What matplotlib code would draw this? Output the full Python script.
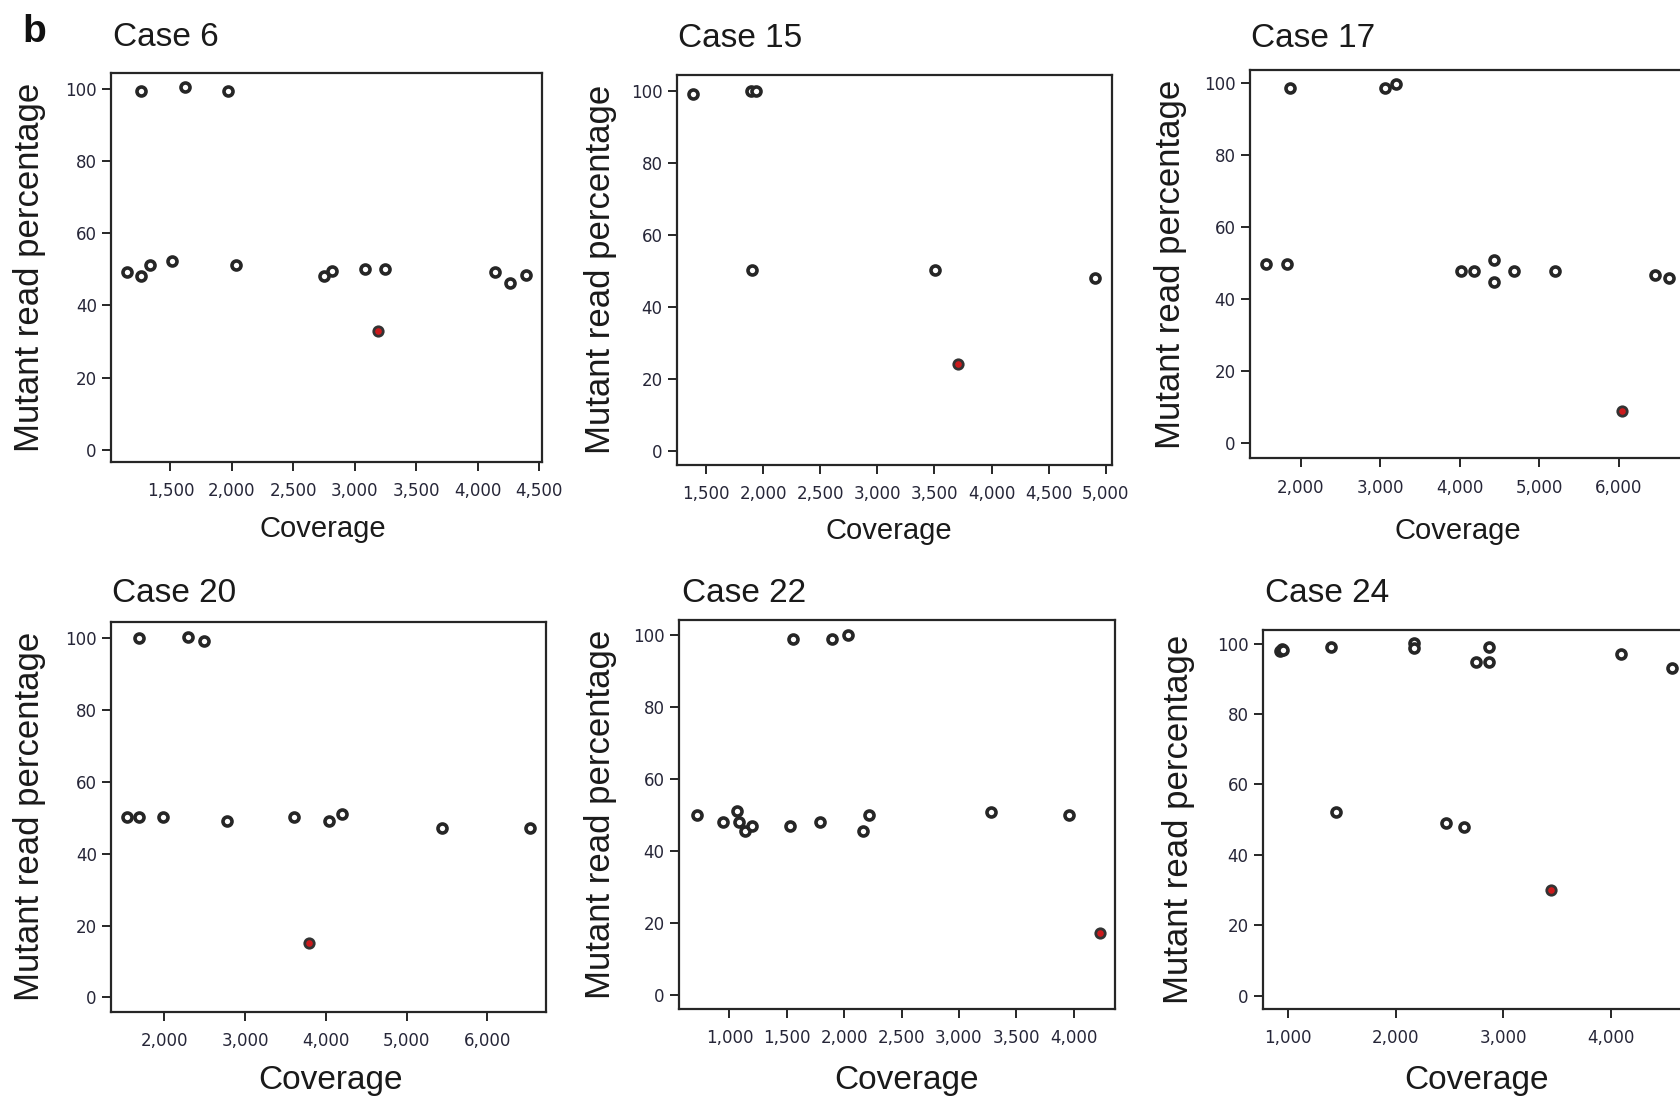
import matplotlib.pyplot as plt
from matplotlib.ticker import FuncFormatter

W, H = 1680, 1097

cases = ["Case 6", "Case 15", "Case 17", "Case 20", "Case 22", "Case 24"]

cov_6 = [1146, 1263, 1263, 1336, 1511, 1622, 1972, 2031, 2746, 2810, 3079, 3248, 4138, 4264, 4392]
pct_6 = [49.2, 99.4, 48.0, 51.3, 52.2, 100.5, 99.4, 51.2, 48.1, 49.4, 50.2, 50.2, 49.2, 46.1, 48.3]

cov_15 = [1386, 1890, 1935, 1902, 3509, 4908]
pct_15 = [99.1, 100.0, 100.0, 50.3, 50.3, 48.2]

cov_17 = [1567, 1827, 1862, 3054, 3192, 4016, 4181, 4431, 4431, 4683, 5198, 6459, 6633]
pct_17 = [49.9, 49.9, 98.8, 98.8, 99.8, 47.8, 47.8, 50.8, 44.8, 47.8, 47.8, 46.8, 45.9]

cov_20 = [1545, 1682, 1682, 1987, 2296, 2486, 2774, 3600, 4042, 4201, 5439, 6531]
pct_20 = [50.1, 50.1, 100.1, 50.1, 100.2, 99.2, 49.2, 50.1, 49.2, 51.1, 47.2, 47.2]

cov_22 = [716, 948, 1064, 1084, 1135, 1197, 1529, 1555, 1793, 1893, 2032, 2167, 2216, 3280, 3958]
pct_22 = [50.0, 48.0, 51.1, 48.0, 45.7, 46.9, 46.9, 98.9, 48.0, 98.9, 100.0, 45.7, 50.0, 51.0, 50.0]

cov_24 = [920, 940, 950, 1396, 1445, 2174, 2174, 2466, 2633, 2748, 2871, 2871, 4096, 4568]
pct_24 = [98.0, 98.6, 98.3, 98.9, 52.1, 100.1, 98.7, 49.0, 48.0, 94.9, 99.1, 94.9, 97.0, 93.0]

# highlighted (red) mutation per case
red_cov = [3192, 3703, 6039, 3790, 4226, 3449]
red_pct = [32.9, 24.2, 8.8, 15.2, 17.1, 30.0]

xticks = [
    [1500, 2000, 2500, 3000, 3500, 4000, 4500],
    [1500, 2000, 2500, 3000, 3500, 4000, 4500, 5000],
    [2000, 3000, 4000, 5000, 6000],
    [2000, 3000, 4000, 5000, 6000],
    [1000, 1500, 2000, 2500, 3000, 3500, 4000],
    [1000, 2000, 3000, 4000],
]
yticks = [0, 20, 40, 60, 80, 100]

all_cov = [cov_6, cov_15, cov_17, cov_20, cov_22, cov_24]
all_pct = [pct_6, pct_15, pct_17, pct_20, pct_22, pct_24]

# layout in pixels: left, right, top, bottom
boxes = [
    (111.4, 541.8, 72.6, 462.3),
    (677.3, 1112.3, 74.7, 464.7),
    (1250.2, 1683, 69.8, 458.4),
    (111.4, 546.4, 622.2, 1011.5),
    (679.1, 1115, 619.8, 1009),
    (1263.3, 1695, 630.2, 1009),
]
xlims = [(1020, 4520), (1247, 5058), (1363, 6810), (1346, 6729), (561, 4361), (769, 4784)]
ylims = [(-3.5, 104.5), (-3.7, 104.5), (-4.3, 103.8), (-3.9, 104.4), (-3.9, 104.3), (-3.8, 103.8)]
title_pos = [(113, 46), (677.6, 46.6), (1251, 46.6), (112.5, 602.3), (682, 602.3), (1264.7, 602.3)]
ylab_off = [65, 60, 63.5, 65, 62, 68]
xlab_pos = [(323, 53), (889, 52), (1458, 59), (331, 53), (906, 56), (1477, 56)]
xlab_size = [21, 21, 21, 24, 24, 24]

TXT = "Liberation Sans"
INK = "#262626"

fig = plt.figure(figsize=(W / 100, H / 100), dpi=100)
fig.patch.set_facecolor("white")

fmt = FuncFormatter(lambda v, p: "{:,.0f}".format(v))

for i in range(6):
    l, r, t, b = boxes[i]
    ax = fig.add_axes([l / W, 1 - b / H, (r - l) / W, (b - t) / H])
    ax.scatter(all_cov[i], all_pct[i], s=42, facecolors="white", edgecolors=INK,
               linewidths=2.6, zorder=3, clip_on=False)
    ax.scatter([red_cov[i]], [red_pct[i]], s=46, facecolors="#cc1a1c", edgecolors="#333333",
               linewidths=2.0, zorder=4)
    ax.set_xlim(*xlims[i])
    ax.set_ylim(*ylims[i])
    ax.set_xticks(xticks[i])
    ax.set_yticks(yticks)
    ax.xaxis.set_major_formatter(fmt)
    for s in ax.spines.values():
        s.set_linewidth(1.6)
        s.set_color(INK)
    ax.tick_params(direction="out", length=6.5, width=1.4, color=INK,
                   labelsize=12, labelcolor="#262638", top=False, right=False)
    ax.tick_params(axis="x", pad=8)
    ax.tick_params(axis="y", pad=4)
    for lab in ax.get_xticklabels() + ax.get_yticklabels():
        lab.set_family("DejaVu Sans")

    ax.set_ylabel("Mutant read percentage", fontsize=25, family=TXT, color="#1a1a1a")
    ax.yaxis.set_label_coords(-ylab_off[i] / (r - l), 0.5)
    ax.set_xlabel("Coverage", fontsize=xlab_size[i], family=TXT, color="#1a1a1a")
    xc, dy = xlab_pos[i]
    ax.xaxis.set_label_coords((xc - l) / (r - l), -dy / (b - t))

    tx, ty = title_pos[i]
    fig.text(tx / W, 1 - ty / H, cases[i], fontsize=24, family=TXT, color="#1a1a1a",
             ha="left", va="baseline")

fig.text(22 / W, 1 - 42 / H, "b", fontsize=28, fontweight="bold", family=TXT,
         color="#111111", ha="left", va="baseline")

fig.savefig("out.png", dpi=100)
